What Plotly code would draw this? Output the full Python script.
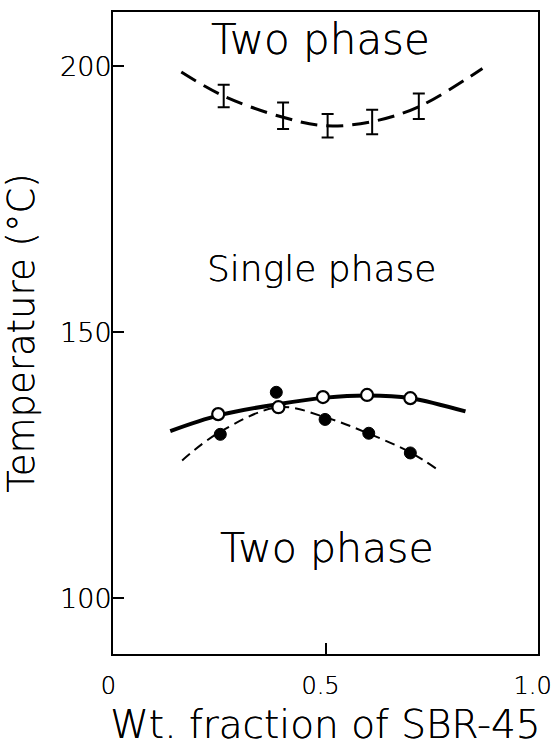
import plotly.graph_objects as go

# Upper boundary (error-bar points) and its dashed guide curve
upper_x = [0.26, 0.40, 0.505, 0.61, 0.72]
upper_T = [194.4, 190.7, 188.8, 189.5, 192.5]
upper_err = [2.1, 2.5, 2.2, 2.3, 2.4]
upper_curve_x = [0.16, 0.26, 0.40, 0.50, 0.61, 0.72, 0.87]
upper_curve_T = [198.9, 194.4, 190.4, 188.8, 189.6, 192.4, 199.6]

# Lower boundary, open circles + solid curve
open_x = [0.247, 0.389, 0.494, 0.598, 0.70]
open_T = [134.6, 135.9, 137.8, 138.2, 137.6]
solid_curve_x = [0.134, 0.25, 0.39, 0.50, 0.60, 0.70, 0.83]
solid_curve_T = [131.4, 134.4, 136.5, 137.7, 138.1, 137.6, 135.1]

# Lower boundary, filled circles + dashed curve
filled_x = [0.252, 0.384, 0.499, 0.602, 0.70]
filled_T = [130.8, 138.7, 133.6, 131.0, 127.3]
dashed_curve_x = [0.162, 0.25, 0.39, 0.50, 0.60, 0.70, 0.76]
dashed_curve_T = [125.9, 131.2, 135.9, 134.0, 131.0, 127.4, 124.4]

x_ticks = [0, 0.5, 1.0]
x_tick_labels = ["0", "0.5", "1.0"]
y_ticks = [100, 150, 200]
y_tick_labels = ["100", "150", "200"]

FONT = "DejaVu Sans"
W = 200  # light weight
SH = "0 0 0.6px black"  # slight thickening of the light strokes

fig = go.Figure()

fig.add_trace(go.Scatter(
    x=upper_curve_x, y=upper_curve_T, mode="lines",
    line=dict(color="black", width=3, dash="17px,9px", shape="spline"),
    hoverinfo="skip"))
fig.add_trace(go.Scatter(
    x=upper_x, y=upper_T, mode="markers",
    marker=dict(size=1, color="black"),
    error_y=dict(type="data", array=upper_err, visible=True,
                 color="black", thickness=2, width=6)))

fig.add_trace(go.Scatter(
    x=solid_curve_x, y=solid_curve_T, mode="lines",
    line=dict(color="black", width=4, shape="spline")))
fig.add_trace(go.Scatter(
    x=dashed_curve_x, y=dashed_curve_T, mode="lines",
    line=dict(color="black", width=2, dash="10px,6px", shape="spline")))

fig.add_trace(go.Scatter(
    x=filled_x, y=filled_T, mode="markers",
    marker=dict(size=12, color="black", line=dict(color="black", width=1))))
fig.add_trace(go.Scatter(
    x=open_x, y=open_T, mode="markers",
    marker=dict(size=12, color="white", line=dict(color="black", width=2.2))))

fig.add_annotation(x=0.488, y=205.0, text="Two phase", showarrow=False,
                   font=dict(family=FONT, size=42, color="black", weight=W, shadow=SH))
fig.add_annotation(x=0.492, y=162.0, text="Single phase", showarrow=False,
                   font=dict(family=FONT, size=36, color="black", weight=W, shadow=SH))
fig.add_annotation(x=0.504, y=109.4, text="Two phase", showarrow=False,
                   font=dict(family=FONT, size=41, color="black", weight=W, shadow=SH))

fig.update_layout(
    width=552, height=749,
    margin=dict(l=113, r=14, t=12, b=95, autoexpand=False),
    paper_bgcolor="white", plot_bgcolor="white",
    showlegend=False,
    font=dict(family=FONT, color="black", size=21),
    xaxis=dict(range=[-0.001, 1.001], tickvals=x_ticks, ticktext=x_tick_labels,
               ticks="inside", ticklen=11, tickwidth=2, tickcolor="black",
               showline=True, linecolor="black", linewidth=2, mirror=True,
               showgrid=False, zeroline=False, ticklabelstandoff=9,
               ticklabelshift=-5,
               ticklabeloverflow="allow", automargin=False,
               tickfont=dict(family=FONT, size=24, weight=W, shadow=SH),
               title=dict(text="Wt. fraction of SBR-45",
                          font=dict(family=FONT, size=39, weight=W, shadow=SH),
                          standoff=12)),
    yaxis=dict(range=[89.5, 210.2], tickvals=y_ticks, ticktext=y_tick_labels,
               ticks="inside", ticklen=11, tickwidth=2, tickcolor="black",
               showline=True, linecolor="black", linewidth=2, mirror=True,
               showgrid=False, zeroline=False, ticklabelstandoff=-6,
               ticklabeloverflow="allow", automargin=False,
               tickfont=dict(family=FONT, size=27, weight=W, shadow=SH),
               title=dict(text="Temperature (°C)",
                          font=dict(family=FONT, size=37, weight=W, shadow=SH),
                          standoff=22)),
)

fig.write_html("out.html")
